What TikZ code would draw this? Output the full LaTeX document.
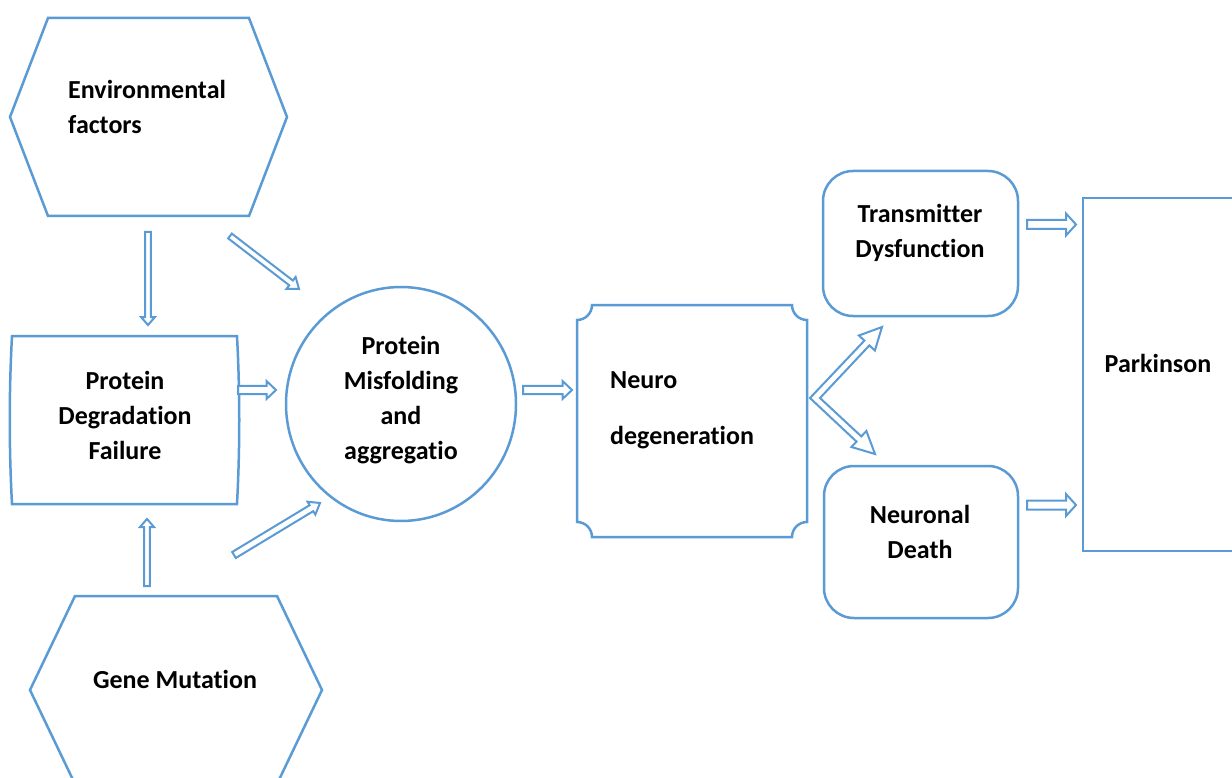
\documentclass[tikz,border=0pt]{standalone}
\usepackage{fontspec}
\setmainfont{Carlito}[Ligatures=NoCommon]
\usetikzlibrary{calc}
\definecolor{lineblue}{HTML}{5B9BD5}
\tikzset{
  shapeline/.style={draw=lineblue, line width=2.5pt, line join=miter},
  blockarr/.style={draw=lineblue, line width=2pt, line join=miter, fill=white},
  lbl/.style={inner sep=0pt, font=\fontsize{26}{35}\selectfont\bfseries, text=black},
}
\newcommand{\blockarrow}[5]{%
  \path ($(#2)!#5!(#1)$) coordinate (baq);
  \draw[blockarr] ($(#1)!#3!90:(#2)$) -- ($(baq)!#3!-90:(#1)$) -- ($(baq)!#4!-90:(#1)$) -- (#2)
    -- ($(baq)!#4!90:(#1)$) -- ($(baq)!#3!90:(#1)$) -- ($(#1)!#3!-90:(#2)$) -- cycle;}
\begin{document}
\begin{tikzpicture}[x=1pt,y=-1pt]
\useasboundingbox (0,0) rectangle (1232,778);
\clip (0,0) rectangle (1232,778);
\fill[white] (0,0) rectangle (1232,778);
% Environmental factors hexagon
\draw[shapeline] (48,18) -- (249,18) -- (287,117) -- (249,216) -- (48,216) -- (10,117) -- cycle;
\node[lbl, anchor=west, align=left] (env) at (68,106.5) {Environmental\\factors};
% Protein Degradation Failure
\draw[shapeline] (12,336) -- (237,336) .. controls (240,392) and (240,448) .. (237,504)
  -- (12,504) .. controls (9,448) and (9,392) .. (12,336) -- cycle;
\node[lbl, align=center] (pdf) at (125,415) {Protein\\Degradation\\Failure};
% Gene Mutation hexagon
\draw[shapeline] (75,596) -- (277,596) -- (322,690) -- (277,784) -- (75,784) -- (30,690) -- cycle;
\node[lbl] (gene) at (175,679) {Gene Mutation};
% Circle
\draw[shapeline] (401,404) ellipse [x radius=115, y radius=117];
\node[lbl, align=center] (circ) at (401,400.5) {Protein\\Misfolding\\and\\aggregatio};
% Neuro degeneration plaque
\draw[shapeline] (592,305) -- (792,305) .. controls (792,313.3) and (798.7,320) .. (807,320)
  -- (807,522) .. controls (798.7,522) and (792,528.7) .. (792,537)
  -- (592,537) .. controls (592,528.7) and (585.3,522) .. (577,522)
  -- (577,320) .. controls (585.3,320) and (592,313.3) .. (592,305) -- cycle;
\node[lbl, anchor=west, align=left] (neuro) at (610,410) {Neuro\\[21pt]degeneration};
% Transmitter Dysfunction
\draw[shapeline, rounded corners=30pt] (823,171) rectangle (1018,316);
\node[lbl, align=center] (trans) at (920,232.5) {Transmitter\\Dysfunction};
% Neuronal Death
\draw[shapeline, rounded corners=30pt] (824,466) rectangle (1018,618);
\node[lbl, align=center] (death) at (920,531.5) {Neuronal\\Death};
% Parkinson
\draw[shapeline] (1250,198) -- (1083,198) -- (1083,551) -- (1250,551);
\node[lbl] (park) at (1158,363) {Parkinson};
% block arrows
\coordinate (a1s) at (148,232); \coordinate (a1e) at (148,325);
\blockarrow{a1s}{a1e}{2.8pt}{7pt}{8pt}
\coordinate (a2s) at (230,236); \coordinate (a2e) at (299,289);
\blockarrow{a2s}{a2e}{3pt}{7.5pt}{10pt}
\coordinate (a3s) at (238,390); \coordinate (a3e) at (276,390);
\blockarrow{a3s}{a3e}{4.2pt}{9pt}{9.5pt}
\coordinate (a4s) at (147,586); \coordinate (a4e) at (147,519);
\blockarrow{a4s}{a4e}{2.8pt}{7pt}{8pt}
\coordinate (a5s) at (234,555); \coordinate (a5e) at (320,503);
\blockarrow{a5s}{a5e}{3.5pt}{7.5pt}{10pt}
\coordinate (a6s) at (523,390); \coordinate (a6e) at (572,390);
\blockarrow{a6s}{a6e}{4.2pt}{9pt}{9.5pt}
\coordinate (a7s) at (1027,224.5); \coordinate (a7e) at (1076,224.5);
\blockarrow{a7s}{a7e}{4.5pt}{11pt}{10pt}
\coordinate (a8s) at (1027,505); \coordinate (a8e) at (1076,505);
\blockarrow{a8s}{a8e}{4.5pt}{11pt}{10pt}
% V-shaped double arrow from Neuro degeneration
\coordinate (vo) at (810,398); \coordinate (vi) at (820,398);
\coordinate (t1) at (882,327); \coordinate (t2) at (875,454);
\draw[blockarr] (vo) -- (864.4,340.6) -- (858.9,335.5) -- (t1) -- (874.9,350.5) -- (869.4,345.4)
  -- (vi) -- (861.3,436.4) -- (866.4,431.0) -- (t2) -- (851.4,447.0) -- (856.5,441.6) -- cycle;
\end{tikzpicture}
\end{document}
